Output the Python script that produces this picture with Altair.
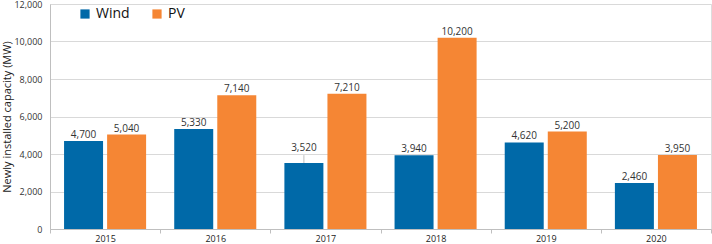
import altair as alt
import pandas as pd

years = ["2015", "2016", "2017", "2018", "2019", "2020"]
wind = [4700, 5330, 3520, 3940, 4620, 2460]
pv = [5040, 7140, 7210, 10200, 5200, 3950]
series = ["Wind", "PV"]
colors = ["#0069A8", "#F58634"]

rows = []
for i, y in enumerate(years):
    rows.append({"year": y, "type": "Wind", "value": wind[i]})
    rows.append({"year": y, "type": "PV", "value": pv[i]})
df = pd.DataFrame(rows)
df["label"] = df["value"].map(lambda v: f"{v:,}")
df["raised"] = (df["year"] == "2017") & (df["type"] == "Wind")

FONT = "Open Sans"

x = alt.X("year:N", title=None,
          scale=alt.Scale(paddingInner=0, paddingOuter=0),
          axis=alt.Axis(labelAngle=0, tickBand="extent", ticks=True, tickSize=4,
                        tickColor="#bfbfbf", domainColor="#bfbfbf",
                        labelFont=FONT, labelFontSize=9, labelColor="#222222",
                        labelPadding=1, grid=False))
xo = alt.XOffset("type:N", sort=series,
                 scale=alt.Scale(paddingInner=0.093, paddingOuter=0.326))
y = alt.Y("value:Q", title="Newly installed capacity (MW)",
          scale=alt.Scale(domain=[0, 12000]),
          axis=alt.Axis(values=list(range(0, 12001, 2000)), format=",.0f",
                        labelFont=FONT, labelFontSize=9, labelColor="#333333",
                        titleFont=FONT, titleFontSize=11, titleFontWeight="normal",
                        titleColor="#222222", titlePadding=1,
                        ticks=False, labelPadding=8,
                        domainColor="#bfbfbf", gridColor="#d9d9d9"))
color = alt.Color("type:N", sort=series,
                  scale=alt.Scale(domain=series, range=colors),
                  legend=alt.Legend(title=None, orient="none", legendX=28, legendY=3,
                                    direction="horizontal", symbolType="square",
                                    symbolSize=85, symbolStrokeWidth=0,
                                    labelFont=FONT, labelFontSize=14,
                                    labelColor="#111111", columnPadding=20,
                                    labelOffset=4))

base = alt.Chart(df)
bars = base.mark_bar(size=39).encode(x=x, xOffset=xo, y=y, color=color)

labels = base.transform_filter("!datum.raised").mark_text(
    dy=-6, fontSize=10, font=FONT, color="#333333").encode(
    x=x, xOffset=xo, y=y, text="label:N")

raised_lbl = base.transform_filter("datum.raised").mark_text(
    dy=-15, fontSize=10, font=FONT, color="#333333").encode(
    x=x, xOffset=xo, y=y, text="label:N")

leader = base.transform_filter("datum.raised").transform_calculate(
    top="datum.value + 420").mark_rule(color="#bfbfbf", strokeWidth=1).encode(
    x=x, xOffset=xo, y=y, y2="top:Q")

chart = alt.layer(bars, leader, labels, raised_lbl).properties(
    width=661, height=225,
    autosize=alt.AutoSizeParams(type="none"),
    padding={"left": 50, "top": 4, "right": 1, "bottom": 15},
).configure_view(stroke=None).configure(background="white")

chart.save("out.html", embed_options={"renderer": "svg", "actions": False})
